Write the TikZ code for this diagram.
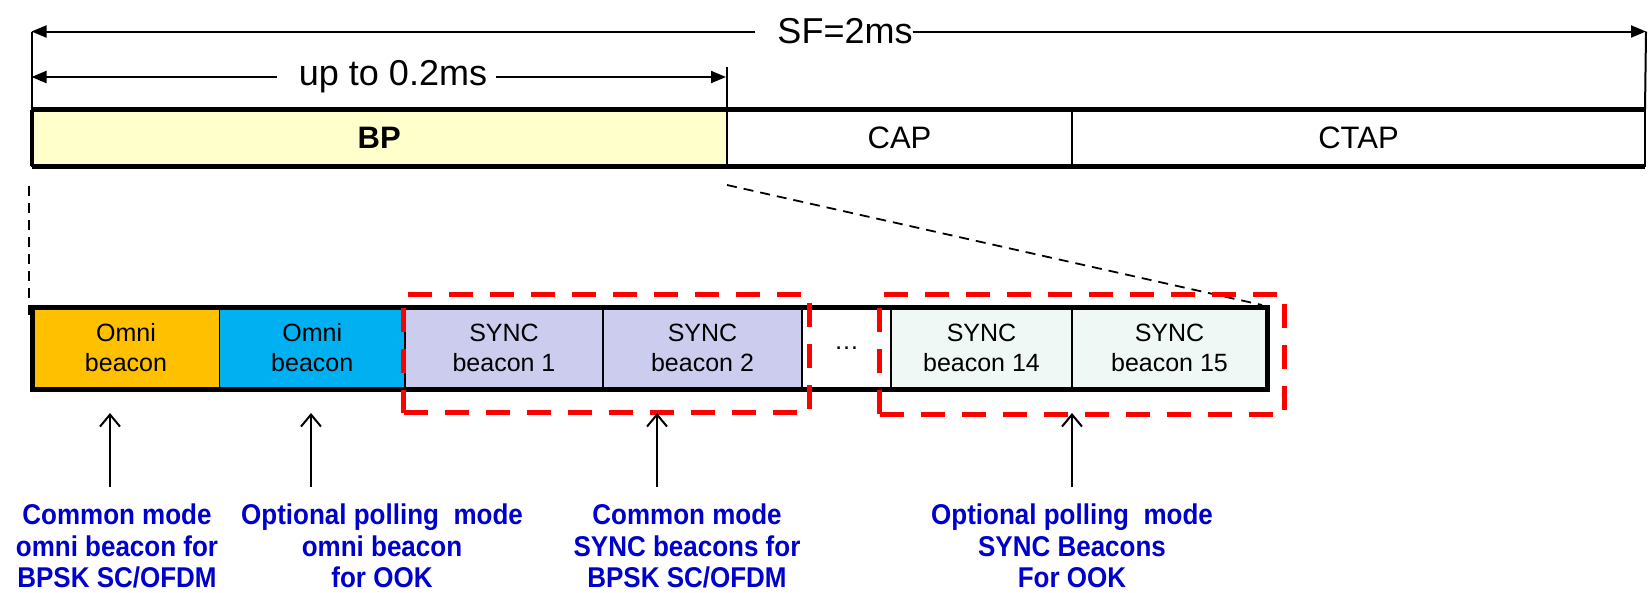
\documentclass[tikz,border=0pt]{standalone}
\usepackage{fontspec}
\setmainfont{Liberation Sans}
\usetikzlibrary{arrows.meta}
\definecolor{bpyellow}{HTML}{FFFFCC}
\definecolor{omniorange}{HTML}{FFC000}
\definecolor{omnicyan}{HTML}{00B0F0}
\definecolor{synclav}{HTML}{CCCCEE}
\definecolor{synclight}{HTML}{F0F8F6}
\definecolor{noteblue}{HTML}{0000CC}
\begin{document}
\begin{tikzpicture}[x=1pt,y=-1pt,
  seg/.style={draw=black, line width=1.2pt, inner sep=0pt, outer sep=0pt, anchor=north west, align=center},
  topseg/.style={seg, minimum height=56.5pt, font=\fontsize{31}{36}\selectfont},
  botseg/.style={seg, minimum height=82pt, font=\fontsize{25}{30}\selectfont},
  note/.style={text=noteblue, align=center, inner sep=0pt, font=\bfseries\fontsize{26}{28.5}\selectfont, yscale=1.1},
  dimtext/.style={inner sep=0pt, font=\fontsize{36}{40}\selectfont},
  dimline/.style={line width=2pt},
  dimarrow/.style={line width=2pt, -{Triangle[length=15pt,width=12pt]}},
  redbox/.style={draw=red, line width=5pt, dash pattern=on 24pt off 17pt},
  guide/.style={line width=1.8pt, dash pattern=on 10pt off 7pt},
  uparrow/.style={line width=2pt, -{Straight Barb[length=12pt,width=20pt,line width=2pt]}}
]
\useasboundingbox (0,0) rectangle (1648,592);

% top bar
\node[topseg, fill=bpyellow, minimum width=695.5pt, font=\bfseries\fontsize{31}{36}\selectfont] (bp) at (31.5,109.5) {BP};
\node[topseg, minimum width=345pt] (cap) at (727,109.5) {CAP};
\node[topseg, minimum width=573pt] (ctap) at (1072,109.5) {CTAP};
\draw[line width=5pt] (bp.north west) -- (ctap.north east);
\draw[line width=5pt] (bp.south west) -- (ctap.south east);
\draw[line width=4pt] (bp.north west) -- (bp.south west);

% SF dimension
\coordinate (sfL) at (31.5,31.5);
\coordinate (sfR) at (1646,31.5);
\node[dimtext] (sf) at (845,31.5) {SF=2ms};
\draw[dimline] (sfL) -- (bp.north west);
\draw[dimline] (sfR) -- (ctap.north east);
\draw[dimarrow] ([xshift=-22pt]sf.west) -- (sfL);
\draw[dimarrow] (sf.east) -- (sfR);

% up to 0.2ms dimension
\coordinate (utL) at (31.5,77);
\coordinate (utR) at (726,77);
\coordinate (tickTop) at (727,67);
\node[dimtext] (upto) at (393,77) {up to 0.2ms};
\draw[dimline] (tickTop) -- (bp.north east);
\draw[dimarrow] ([xshift=-22pt]upto.west) -- (utL);
\draw[dimarrow] ([xshift=9pt]upto.east) -- (utR);

% bottom bar
\node[botseg, fill=omniorange, minimum width=187pt] (o1) at (32.5,307) {Omni\\beacon};
\node[botseg, fill=omnicyan, minimum width=185.5pt] (o2) at (219.5,307) {Omni\\beacon};
\node[botseg, fill=synclav, minimum width=198pt] (s1) at (405,307) {SYNC\\beacon 1};
\node[botseg, fill=synclav, minimum width=199pt] (s2) at (603,307) {SYNC\\beacon 2};
\node[botseg, fill=white, minimum width=89pt] (dots) at (802,307) {\ldots};
\node[botseg, fill=synclight, minimum width=181pt] (s14) at (891,307) {SYNC\\beacon 14};
\node[botseg, fill=synclight, minimum width=195pt] (s15) at (1072,307) {SYNC\\beacon 15};
\draw[line width=5pt] (o1.north west) rectangle (s15.south east);

% guides (zoom lines)
\coordinate (gL1) at (29,186);
\coordinate (gL2) at (29,322);
\coordinate (gR1) at (727,185);
\coordinate (gR2) at (1262,305);
\draw[guide] (gL1) -- (gL2);
\draw[guide] (gR1) -- (gR2);

% red dashed groups
\node[redbox, anchor=north west, minimum width=406pt, minimum height=118pt, inner sep=0pt] (r1) at (401,292) {};
\node[redbox, anchor=north west, minimum width=405pt, minimum height=120pt, inner sep=0pt] (r2) at (877,292) {};

% notes
\node[note] (n1) at (117,546) {Common mode\\omni beacon for\\ BPSK SC/OFDM};
\node[note] (n2) at (382,546) {Optional polling~ mode\\omni beacon\\for OOK};
\node[note] (n3) at (687,546) {Common mode\\SYNC beacons for\\BPSK SC/OFDM};
\node[note] (n4) at (1072,546) {Optional polling~ mode\\SYNC Beacons\\For OOK};

% arrows
\coordinate (a1b) at (110,487); \coordinate (a1t) at (110,413);
\coordinate (a2b) at (311,487); \coordinate (a2t) at (311,413);
\coordinate (a3b) at (657,487); \coordinate (a3t) at (657,413);
\coordinate (a4b) at (1072,487); \coordinate (a4t) at (1072,413);
\draw[uparrow] (a1b) -- (a1t);
\draw[uparrow] (a2b) -- (a2t);
\draw[uparrow] (a3b) -- (a3t);
\draw[uparrow] (a4b) -- (a4t);
\end{tikzpicture}
\end{document}
